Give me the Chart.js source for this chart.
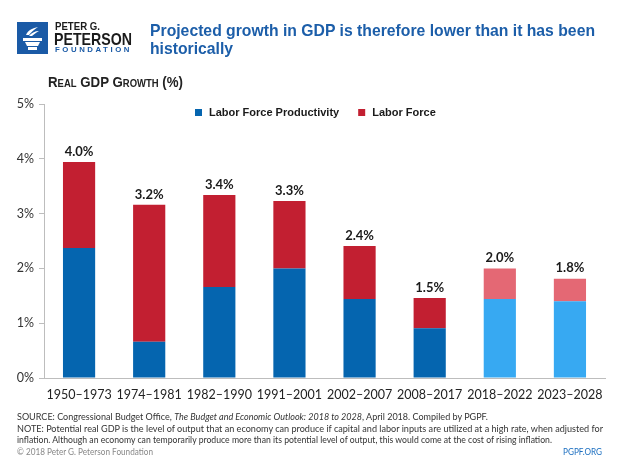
<!DOCTYPE html>
<html>
<head>
<meta charset="utf-8">
<script src="https://cdn.jsdelivr.net/npm/chart.js@4.4.1/dist/chart.umd.min.js"></script>
<style>
  html, body { margin: 0; padding: 0; background: #fff; }
  #wrap { position: relative; width: 620px; height: 465px; overflow: hidden; }
  #chart { position: absolute; left: 0; top: 0; }
  .txt { position: absolute; white-space: nowrap; transform-origin: 0 0; }
  #logo { position: absolute; left: 17px; top: 22px; }
  #org1 { left: 55px; top: 20px; font: bold 11px "Liberation Sans", Arial, sans-serif; color: #1b1b1b; }
  #org2 { left: 54px; top: 30px; font: bold 17px "Liberation Sans", Arial, sans-serif; color: #1b1b1b; }
  #org3 { left: 55px; top: 46px; font: bold 7px "Liberation Sans", Arial, sans-serif; color: #1a5aa6; letter-spacing: 2.3px; }
  .title { left: 150px; font: bold 17px "Liberation Sans", Arial, sans-serif; color: #1c5ea9; }
  #ytitle { left: 48px; top: 74px; font: bold 14px "Liberation Sans", Arial, sans-serif; font-variant: small-caps; color: #222; }
  .foot { left: 17px; font: 9px Lato, "Noto Sans", sans-serif; color: #333; }
  #copy { left: 17px; top: 446px; font: 9px Lato, sans-serif; color: #888; }
  #site { left: 563px; top: 446px; font: 9.5px Lato, sans-serif; color: #1c6fc0; }
</style>
</head>
<body>
<div id="wrap">
  <canvas id="chart" width="620" height="465"></canvas>
  <svg id="logo" width="31" height="32" viewBox="0 0 31 32">
    <rect width="31" height="32" fill="#1a5aa6"/>
    <path d="M9 13 C11 8 16 6 21 5 C17 8 14 10 12 13 Z" fill="#fff"/>
    <path d="M12 14 C14 11 18 9 22 9 C19 11 17 12 15 14 Z" fill="#fff"/>
    <rect x="6" y="16" width="19" height="3" fill="#fff"/>
    <path d="M8 20 L23 20 L21 24 L10 24 Z" fill="#fff"/>
    <rect x="11" y="25" width="9" height="3" fill="#fff"/>
  </svg>
  <div class="txt" id="org1" data-w="45">PETER G.</div>
  <div class="txt" id="org2" data-w="78">PETERSON</div>
  <div class="txt" id="org3" data-w="77">FOUNDATION</div>
  <div class="txt title" id="title1" style="top:21px" data-w="445">Projected growth in GDP is therefore lower than it has been</div>
  <div class="txt title" id="title2" style="top:39px">historically</div>
  <div class="txt" id="ytitle" data-w="135">Real GDP Growth (%)</div>
  <div class="txt foot" style="top:411px" data-w="471">SOURCE: Congressional Budget Office, <i>The Budget and Economic Outlook: 2018 to 2028</i>, April 2018. Compiled by PGPF.</div>
  <div class="txt foot" style="top:422.5px" data-w="586">NOTE: Potential real GDP is the level of output that an economy can produce if capital and labor inputs are utilized at a high rate, when adjusted for</div>
  <div class="txt foot" style="top:434px" data-w="535">inflation. Although an economy can temporarily produce more than its potential level of output, this would come at the cost of rising inflation.</div>
  <div class="txt" id="copy" data-w="136">© 2018 Peter G. Peterson Foundation</div>
  <div class="txt" id="site" data-w="39">PGPF.ORG</div>
</div>
<script>
// periods and growth components (percentage points)
const periods = ['1950–1973', '1974–1981', '1982–1990', '1991–2001', '2002–2007', '2008–2017', '2018–2022', '2023–2028'];
const productivity = [2.37, 0.66, 1.66, 2.00, 1.44, 0.91, 1.44, 1.40];
const laborForce = [1.57, 2.50, 1.68, 1.23, 0.97, 0.55, 0.56, 0.41];
const totalLabels = ['4.0%', '3.2%', '3.4%', '3.3%', '2.4%', '1.5%', '2.0%', '1.8%'];
const isProjection = [false, false, false, false, false, false, true, true];
const yTicks = [0, 1, 2, 3, 4, 5];

const BLUE = '#0565af', LIGHT_BLUE = '#37a9f2';
const RED = '#c21f31', LIGHT_RED = '#e46874';

// squeeze text blocks horizontally to the widths seen in the original
document.querySelectorAll('[data-w]').forEach(el => {
    const k = Number(el.dataset.w) / el.getBoundingClientRect().width;
    el.style.transform = 'scaleX(' + k + ')';
    el.dataset.k = k;
});
// second title line uses the same squeeze as the first
document.getElementById('title2').style.transform =
    'scaleX(' + document.getElementById('title1').dataset.k + ')';

// total value label above each stack
const totalsPlugin = {
    id: 'totals',
    afterDatasetsDraw(chart) {
        const ctx = chart.ctx;
        const top = chart.getDatasetMeta(1).data;
        ctx.save();
        ctx.font = 'bold 13px Lato, sans-serif';
        ctx.fillStyle = '#1a1a1a';
        ctx.textAlign = 'center';
        ctx.textBaseline = 'bottom';
        top.forEach((bar, i) => {
            ctx.fillText(totalLabels[i], bar.x, bar.y - 4);
        });
        ctx.restore();
    }
};

// legend drawn inside the plot area
const legendPlugin = {
    id: 'innerLegend',
    afterDraw(chart) {
        const ctx = chart.ctx;
        const area = chart.chartArea;
        let x = area.left + 151;
        const y = area.top + 8;
        ctx.save();
        ctx.font = 'bold 11px "Liberation Sans", Arial, sans-serif';
        ctx.textBaseline = 'middle';
        chart.data.datasets.forEach(ds => {
            ctx.fillStyle = ds.legendColor;
            ctx.fillRect(x, y - 3, 7, 7);
            ctx.fillStyle = '#1a1a1a';
            ctx.fillText(ds.label, x + 14, y + 0.5);
            x += 14 + ctx.measureText(ds.label).width + 19;
        });
        ctx.restore();
    }
};

new Chart(document.getElementById('chart'), {
    type: 'bar',
    data: {
        labels: periods,
        datasets: [{
            label: 'Labor Force Productivity',
            data: productivity,
            legendColor: BLUE,
            backgroundColor: ctx => isProjection[ctx.dataIndex] ? LIGHT_BLUE : BLUE
        }, {
            label: 'Labor Force',
            data: laborForce,
            legendColor: RED,
            backgroundColor: ctx => isProjection[ctx.dataIndex] ? LIGHT_RED : RED
        }]
    },
    options: {
        responsive: false,
        animation: false,
        layout: {
            padding: { left: 0, right: 15, top: 104, bottom: 57 }
        },
        datasets: {
            bar: {
                categoryPercentage: 0.9,
                barPercentage: 0.51,
                borderWidth: 0
            }
        },
        plugins: {
            legend: { display: false },
            tooltip: { enabled: false }
        },
        scales: {
            x: {
                stacked: true,
                grid: { display: false },
                border: { display: true, color: '#bdbdbd', width: 1 },
                ticks: {
                    color: '#222',
                    padding: 1,
                    autoSkip: false,
                    maxRotation: 0,
                    font: { family: 'Lato, sans-serif', size: 12.5 }
                },
                afterFit: scale => { scale.height = 30; }
            },
            y: {
                stacked: true,
                min: 0,
                max: 5,
                afterBuildTicks: scale => { scale.ticks = yTicks.map(v => ({ value: v })); },
                grid: { display: true, drawOnChartArea: false, drawTicks: true, tickLength: 5, color: '#bdbdbd' },
                border: { display: true, color: '#bdbdbd', width: 1 },
                ticks: {
                    color: '#333',
                    padding: 5,
                    font: { family: 'Lato, sans-serif', size: 12.5 },
                    callback: v => v + '%'
                },
                afterFit: scale => { scale.width = 44; }
            }
        }
    },
    plugins: [totalsPlugin, legendPlugin]
});
</script>
</body>
</html>
